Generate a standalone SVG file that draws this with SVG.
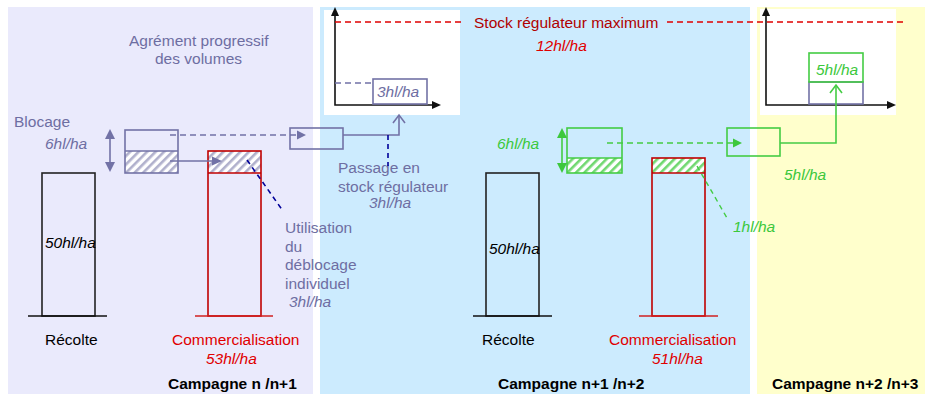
<svg xmlns="http://www.w3.org/2000/svg" width="925" height="394" viewBox="0 0 925 394">
<style>
text{font-family:"Liberation Sans",Arial,sans-serif;font-size:15.5px}
.it{font-style:italic}
.b{font-weight:bold;fill:#000}
.pu{fill:#6E6EA2}
.rd{fill:#E00000}
.dr{fill:#B00000}
.gr{fill:#3CC83C}
.bk{fill:#000}
.pbox{fill:none;stroke:#7272A6;stroke-width:1.6}
.gbox{fill:none;stroke:#44CC44;stroke-width:1.6}
.rbox{fill:none;stroke:#C00000;stroke-width:1.6}
.kbox{fill:none;stroke:#222;stroke-width:1.6}
.pl{fill:none;stroke:#7272A6;stroke-width:1.6}
.gl{fill:none;stroke:#44CC44;stroke-width:1.6}
.dash{stroke-dasharray:6 4}
</style>
<defs>
<pattern id="hp" width="6" height="6" patternUnits="userSpaceOnUse" patternTransform="rotate(45)">
<rect width="6" height="6" fill="#fff"/><rect width="2.6" height="6" fill="#B0B0CC"/>
</pattern>
<pattern id="hg" width="6" height="6" patternUnits="userSpaceOnUse" patternTransform="rotate(45)">
<rect width="6" height="6" fill="#fff"/><rect width="2.6" height="6" fill="#70D870"/>
</pattern>
</defs>
<!-- backgrounds -->
<rect x="8" y="7" width="305" height="387" fill="#EAEAFC"/>
<rect x="320" y="7" width="430" height="387" fill="#CCEBFE"/>
<rect x="757" y="7" width="168" height="387" fill="#FFFFCC"/>
<rect x="324" y="10" width="136" height="105" fill="#fff"/>
<rect x="760" y="9" width="136" height="106" fill="#fff"/>

<!-- chart 1 -->
<g id="chart1">
<path d="M335,14V105H434" stroke="#111" stroke-width="1.6" fill="none"/>
<polygon points="335,7 331,16 339,16" fill="#111"/>
<polygon points="441,105 432,101 432,109" fill="#111"/>
<line x1="335" y1="83" x2="371" y2="83" class="pl dash"/>
<rect x="373" y="79" width="54" height="25" class="pbox"/>
<text x="377" y="97" class="it pu">3hl/ha</text>
</g>
<!-- chart 2 -->
<g id="chart2">
<path d="M766,14V105H889" stroke="#111" stroke-width="1.6" fill="none"/>
<polygon points="766,7 762,16 770,16" fill="#111"/>
<polygon points="896,105 887,101 887,109" fill="#111"/>
<rect x="809" y="82" width="54" height="22" class="pbox"/>
<rect x="809" y="53" width="54" height="29" class="gbox"/>
<text x="816" y="75" class="it gr">5hl/ha</text>
</g>

<!-- red max line -->
<g id="stock-max">
<line x1="335" y1="22" x2="463" y2="22" stroke="#E00000" stroke-width="1.4" class="dash"/>
<line x1="667" y1="22" x2="905" y2="22" stroke="#E00000" stroke-width="1.4" class="dash"/>
<text x="474" y="28" class="dr" font-size="16">Stock régulateur maximum</text>
<text x="536" y="51" class="it rd">12hl/ha</text>
</g>

<!-- panel 1 -->
<g id="agrement">
<text x="129" y="46" class="pu">Agrément progressif</text>
<text x="155" y="64" class="pu">des volumes</text>
</g>
<g id="blocage">
<text x="14" y="127" class="pu">Blocage</text>
<text x="45" y="149" class="it pu">6hl/ha</text>
<rect x="125" y="151" width="53" height="22" fill="url(#hp)"/>
<rect x="125" y="130" width="53" height="43" class="pbox"/>
<line x1="125" y1="151" x2="178" y2="151" class="pl"/>
</g>
<g id="recolte1">
<rect x="42" y="173" width="53" height="143" class="kbox"/>
<line x1="28" y1="316" x2="107" y2="316" stroke="#111" stroke-width="1.6"/>
<text x="45" y="248" class="it bk">50hl/ha</text>
<text x="45" y="345" class="bk">Récolte</text>
</g>
<g id="comm1">
<rect x="208" y="151" width="53" height="22" fill="url(#hp)"/>
<rect x="208" y="151" width="53" height="165" class="rbox"/>
<line x1="208" y1="173" x2="261" y2="173" class="rbox"/>
<line x1="195" y1="316" x2="273" y2="316" stroke="#D02020" stroke-width="1.6"/>
<text x="172" y="345" class="rd" font-size="16">Commercialisation</text>
<text x="206" y="364" class="it rd">53hl/ha</text>
</g>
<g id="passage-box">
<rect x="290" y="128" width="53" height="21" class="pbox"/>
</g>
<g id="utilisation">
<text x="285" y="233" class="pu">Utilisation</text>
<text x="285" y="252" class="pu">du</text>
<text x="285" y="270" class="pu">déblocage</text>
<text x="285" y="289" class="pu">individuel</text>
<text x="289" y="307" class="it pu">3hl/ha</text>
</g>
<g id="passage">
<text x="338" y="173" class="pu">Passage en</text>
<text x="338" y="192" class="pu">stock régulateur</text>
<text x="369" y="208" class="it pu">3hl/ha</text>
</g>
<text x="168" y="389" class="b">Campagne n /n+1</text>

<!-- panel 2 -->
<g id="blocage2">
<text x="497" y="149" class="it gr">6hl/ha</text>
<rect x="567" y="158" width="55" height="15" fill="url(#hg)"/>
<rect x="567" y="128" width="55" height="45" class="gbox"/>
<line x1="567" y1="158" x2="622" y2="158" class="gl"/>
</g>
<g id="recolte2">
<rect x="486" y="173" width="53" height="143" class="kbox"/>
<line x1="473" y1="316" x2="552" y2="316" stroke="#111" stroke-width="1.6"/>
<text x="489" y="254" class="it bk">50hl/ha</text>
<text x="482" y="345" class="bk">Récolte</text>
</g>
<g id="comm2">
<rect x="652" y="158" width="53" height="15" fill="url(#hg)"/>
<rect x="652" y="158" width="53" height="158" class="rbox"/>
<line x1="652" y1="173" x2="705" y2="173" class="rbox"/>
<line x1="639" y1="316" x2="718" y2="316" stroke="#D02020" stroke-width="1.6"/>
<text x="609" y="345" class="rd" font-size="16">Commercialisation</text>
<text x="652" y="364" class="it rd">51hl/ha</text>
</g>
<g id="stock-box2">
<rect x="727" y="128" width="53" height="28" class="gbox"/>
</g>
<text x="784" y="180" class="it gr">5hl/ha</text>
<text x="733" y="232" class="it gr">1hl/ha</text>
<text x="498" y="389" class="b">Campagne n+1 /n+2</text>
<text x="772" y="389" class="b">Campagne n+2 /n+3</text>

<!-- connectors -->
<g id="connectors">
<line x1="110" y1="137" x2="110" y2="164" class="pl"/>
<polygon points="110,129 105,139 115,139" fill="#7272A6"/>
<polygon points="110,172 105,162 115,162" fill="#7272A6"/>
<line x1="170" y1="135" x2="298" y2="135" class="pl dash"/>
<polygon points="306,135 297,130.5 297,139.5" fill="#7272A6"/>
<line x1="170" y1="161" x2="213" y2="161" class="pl"/>
<polygon points="222,161 212,156.5 212,165.5" fill="#7272A6"/>
<path d="M343,135H399V115" class="pl"/>
<path d="M393,123L399,115L405,123" class="pl"/>
<line x1="247" y1="160" x2="283" y2="211" stroke="#000099" stroke-width="1.6" stroke-dasharray="5 4"/>
<line x1="388" y1="135" x2="388" y2="166" stroke="#000099" stroke-width="1.6" stroke-dasharray="5 4"/>

<line x1="562" y1="136" x2="562" y2="165" class="gl"/>
<polygon points="562,128 557,138 567,138" fill="#3CC83C"/>
<polygon points="562,173 557,163 567,163" fill="#3CC83C"/>
<line x1="607" y1="143" x2="734" y2="143" class="gl dash"/>
<polygon points="742,143 733,138.5 733,147.5" fill="#3CC83C"/>
<path d="M780,143H836V86" class="gl"/>
<path d="M830,93L836,85L842,93" class="gl"/>
<line x1="697" y1="166" x2="727" y2="218" stroke="#44CC44" stroke-width="1.4" stroke-dasharray="5 4"/>
</g>
</svg>
